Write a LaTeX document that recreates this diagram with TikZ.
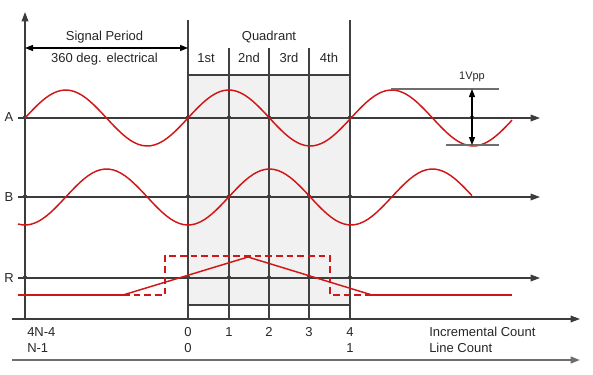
\documentclass[tikz,border=0pt]{standalone}
\usepackage{fontspec}
\setmainfont{Liberation Sans}
\usetikzlibrary{arrows.meta}

\definecolor{sigred}{RGB}{208,22,22}
\definecolor{boxgrey}{RGB}{241,241,241}
\definecolor{axisgrey}{RGB}{60,60,60}
\definecolor{refgrey}{RGB}{110,110,110}

\tikzset{
  axis/.style={draw=axisgrey, line width=0.9pt, -{Triangle[length=7pt,width=5pt]}},
  grid/.style={draw=black!75, line width=0.9pt},
  dimline/.style={draw=black, line width=0.8pt, {Triangle[length=6pt,width=4.5pt]}-{Triangle[length=6pt,width=4.5pt]}},
  refline/.style={draw=refgrey, line width=1.3pt},
  hopline/.style={draw=axisgrey, line width=0.6pt},
  sig/.style={draw=sigred, line width=1.1pt},
  sigflat/.style={draw=sigred, line width=1.9pt},
  sigdash/.style={draw=sigred, line width=1.5pt, dash pattern=on 5pt off 3pt},
  lbl/.style={font=\fontsize{9.75}{11}\selectfont, inner sep=0pt, anchor=base, text=black!85},
  smalllbl/.style={font=\fontsize{8.25}{9}\selectfont, inner sep=0pt, anchor=base, text=black!85},
}

\begin{document}
\begin{tikzpicture}[x=0.75pt,y=0.75pt,yscale=-1]
\useasboundingbox (0,0) rectangle (593,375);

%Quadrant box
\fill[boxgrey] (188,75) rectangle (350,305);
\draw[grid] (188,75) -- (350,75);
\draw[grid] (188,305) -- (350,305);

%Quadrant lines
\foreach \n/\x/\t in {0/188/20,1/229/48,2/269/48,3/309/48,4/350/20} {
  \coordinate (qt\n) at (\x,\t);
  \coordinate (qb\n) at (\x,319);
  \draw[grid] (qt\n) -- (qb\n);
}

%Vertical axis
\coordinate (yb) at (25,319);
\coordinate (yt) at (25,12);
\draw[axis] (yb) -- (yt);

%Signal period
\coordinate (sp0) at (25,48);
\coordinate (sp1) at (188,48);
\draw[dimline] (sp0) -- (sp1);

%Channel axes
\foreach \c/\y/\b in {A/118/121,B/197/201,R/278/282} {
  \coordinate (\c0) at (18,\y);
  \coordinate (\c1) at (540,\y);
  \draw[axis] (\c0) -- (\c1);
  \node[lbl] (lbl\c) at (9,\b) {\c};
  \foreach \x in {25,188,229,269,309,350}
    \draw[hopline] (\x-2,\y) arc[start angle=180,end angle=360,radius=2];
}
\draw[hopline] (470,118) arc[start angle=180,end angle=360,radius=2];

%Signal A
\draw[sig] plot[domain=25:512,samples=121] (\x,{118-28*sin(2.2086*(\x-25))});
%Signal B
\draw[sig] plot[domain=18:472,samples=111] (\x,{197+28*cos(2.2086*(\x-25))});

%Reference mark R
\coordinate (r0) at (18,295);
\coordinate (r1) at (123,295);
\coordinate (r2) at (248,257);
\coordinate (r3) at (372,295);
\coordinate (r4) at (512,295);
\draw[sigflat] (r0) -- (r1);
\draw[sig] (r1) -- (r2) -- (r3);
\draw[sigflat] (r3) -- (r4);
\coordinate (g0) at (165,295);
\coordinate (g1) at (165,256);
\coordinate (g2) at (330,256);
\coordinate (g3) at (330,295);
\draw[sigdash] (r1) -- (g0) -- (g1) -- (g2) -- (g3) -- (r3);

%1Vpp
\coordinate (vt0) at (391,89);
\coordinate (vt1) at (499,89);
\coordinate (vb0) at (446,145);
\coordinate (vb1) at (499,145);
\draw[refline] (vt0) -- (vt1);
\draw[refline] (vb0) -- (vb1);
\coordinate (vpt) at (472,89);
\coordinate (vpb) at (472,145);
\draw[dimline] (vpt) -- (vpb);
\node[smalllbl] (vpp) at (472,79) {1Vpp};

%Count axes
\coordinate (ic0) at (12,319);
\coordinate (ic1) at (580,319);
\coordinate (lc0) at (12,360);
\coordinate (lc1) at (580,360);
\draw[axis] (ic0) -- (ic1);
\draw[axis, draw=refgrey, line width=1.5pt] (lc0) -- (lc1);

% Text Node
\node[lbl] (period) at (104.5,40.5) {Signal Period};
\node[lbl] (deg) at (104.5,62) {360 deg. electrical};
\node[lbl] (quad) at (269,40.5) {Quadrant};
\node[lbl] (first) at (206,62) {1st};
\node[lbl] (second) at (249,62) {2nd};
\node[lbl] (third) at (289,62) {3rd};
\node[lbl] (fourth) at (329,62) {4th};

% Text Node
\node[lbl, anchor=base west] (inc) at (27,336) {4N-4};
\foreach \n/\x in {0/188,1/229,2/269,3/309,4/350}
  \node[lbl] (ic\n n) at (\x,336) {\n};
\node[lbl, anchor=base west] (inclbl) at (429,336) {Incremental Count};
\node[lbl, anchor=base west] (lin) at (27,352) {N-1};
\node[lbl] (lcz) at (188,352) {0};
\node[lbl] (lco) at (350,352) {1};
\node[lbl, anchor=base west] (linlbl) at (429,352) {Line Count};

\end{tikzpicture}
\end{document}
